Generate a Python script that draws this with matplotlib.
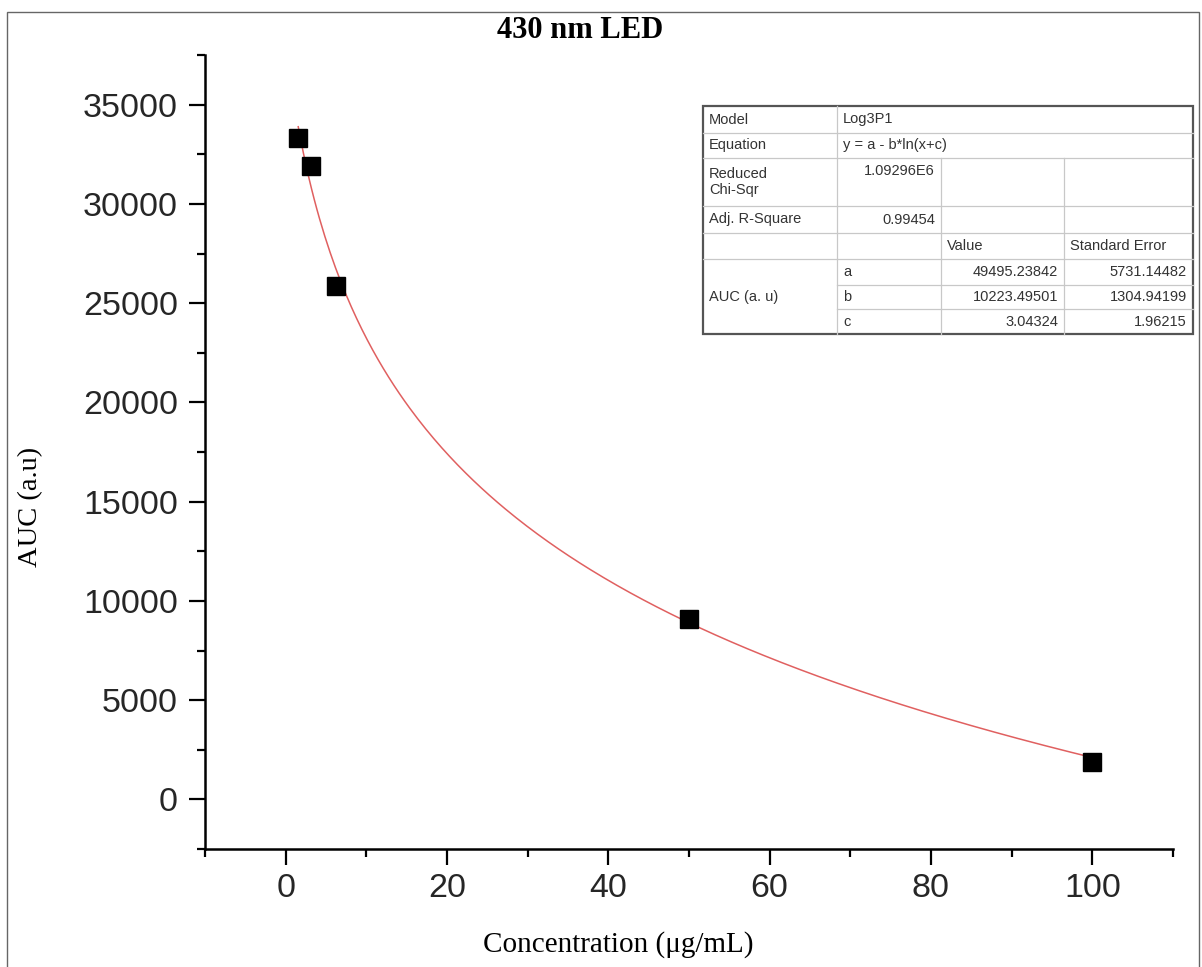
import matplotlib
matplotlib.use("Agg")
import matplotlib.pyplot as plt
import numpy as np
from matplotlib.lines import Line2D
from matplotlib.patches import Rectangle
from matplotlib.ticker import MultipleLocator

# data
conc = [1.56, 3.125, 6.25, 50, 100]
auc = [33300, 31900, 25850, 9100, 1900]

# fit parameters from the result table (Log3P1: y = a - b*ln(x+c))
fit_a = 49495.23842
fit_b = 10223.49501
fit_c = 3.04324

table_rows = [
    ["Model", "Log3P1", "", ""],
    ["Equation", "y = a - b*ln(x+c)", "", ""],
    ["Reduced\nChi-Sqr", "1.09296E6", "", ""],
    ["Adj. R-Square", "0.99454", "", ""],
    ["", "", "Value", "Standard Error"],
    ["AUC (a. u)", "a", "49495.23842", "5731.14482"],
    ["", "b", "10223.49501", "1304.94199"],
    ["", "c", "3.04324", "1.96215"],
]

W, H = 1202, 967
fig = plt.figure(figsize=(W / 100, H / 100), dpi=100)


def fx(px):
    return px / W


def fy(py):
    return 1 - py / H


ax = fig.add_axes([fx(205), fy(849), fx(1173) - fx(205), fy(55) - fy(849)])

xs = np.linspace(conc[0], conc[-1], 300)
ax.plot(xs, fit_a - fit_b * np.log(xs + fit_c), color="#e06060", lw=1.1, zorder=2)
ax.plot(conc, auc, "s", color="black", markersize=13, zorder=3)

ax.set_xlim(-10, 110)
ax.set_ylim(-2500, 37500)
ax.xaxis.set_minor_locator(MultipleLocator(10))
ax.yaxis.set_minor_locator(MultipleLocator(2500))
ax.set_xticks([0, 20, 40, 60, 80, 100])
ax.set_yticks([0, 5000, 10000, 15000, 20000, 25000, 30000, 35000])

for side in ["top", "right"]:
    ax.spines[side].set_visible(False)
for side in ["left", "bottom"]:
    ax.spines[side].set_linewidth(1.8)
    ax.spines[side].set_color("black")

ax.tick_params(which="major", length=11.5, width=1.6, direction="out",
               labelsize=24.5, labelcolor="#262626")
ax.tick_params(which="minor", length=6, width=1.6, direction="out")
ax.tick_params(axis="y", pad=8)
ax.tick_params(axis="x", pad=6)
for lab in ax.get_xticklabels() + ax.get_yticklabels():
    lab.set_family("Liberation Sans")

# titles and axis labels
fig.text(fx(580), fy(30), "430 nm LED", family="Liberation Serif",
         weight="bold", fontsize=22, ha="center", va="center")
fig.text(fx(618), fy(945), "Concentration (\u03bcg/mL)", family="Liberation Serif",
         fontsize=21, ha="center", va="center")
fig.text(fx(31), fy(507), "AUC (a.u)", family="Liberation Serif",
         fontsize=20.5, ha="center", va="center", rotation=90)

# outer frame
fig.add_artist(Rectangle((fx(7), fy(975)), fx(1199) - fx(7), fy(12) - fy(975),
                         transform=fig.transFigure, fill=False,
                         edgecolor="#666666", lw=1.0))

# result table
cols = [703, 837, 941, 1064, 1193]
rows = [106, 133, 158, 206, 233, 259, 285, 309, 334]
grid = "#c8c8c8"
tcol = "#333333"
tfont = dict(family="Liberation Sans", fontsize=10.5, color=tcol)


def hline(y, x0, x1, color=grid, lw=0.9):
    fig.add_artist(Line2D([fx(x0), fx(x1)], [fy(y), fy(y)],
                          transform=fig.transFigure, color=color, lw=lw))


def vline(x, y0, y1, color=grid, lw=0.9):
    fig.add_artist(Line2D([fx(x), fx(x)], [fy(y0), fy(y1)],
                          transform=fig.transFigure, color=color, lw=lw))


fig.add_artist(Rectangle((fx(cols[0]), fy(rows[-1])), fx(cols[-1]) - fx(cols[0]),
                         fy(rows[0]) - fy(rows[-1]), transform=fig.transFigure,
                         facecolor="white", edgecolor="none", zorder=0))

for i, y in enumerate(rows[1:-1], start=1):
    if i >= 6:
        hline(y, cols[1], cols[-1])
    else:
        hline(y, cols[0], cols[-1])
vline(cols[1], rows[0], rows[-1])
vline(cols[2], rows[2], rows[-1])
vline(cols[3], rows[2], rows[-1])

fig.add_artist(Rectangle((fx(cols[0]), fy(rows[-1])), fx(cols[-1]) - fx(cols[0]),
                         fy(rows[0]) - fy(rows[-1]), transform=fig.transFigure,
                         fill=False, edgecolor="#555555", lw=1.6))

right_cols = {(2, 1), (3, 1), (5, 2), (5, 3), (6, 2), (6, 3), (7, 2), (7, 3)}
for r, row in enumerate(table_rows):
    top, bot = rows[r], rows[r + 1]
    for c, txt in enumerate(row):
        if not txt:
            continue
        if r == 5 and c == 0:
            ymid = (rows[5] + rows[8]) / 2
        elif r == 2 and c == 1:
            ymid = top + 13
        else:
            ymid = (top + bot) / 2
        if (r, c) in right_cols:
            fig.text(fx(cols[c + 1] - 6), fy(ymid), txt, ha="right",
                     va="center", **tfont)
        else:
            fig.text(fx(cols[c] + 6), fy(ymid), txt, ha="left", va="center",
                     linespacing=1.1, **tfont)

fig.savefig("out.png", dpi=100)
